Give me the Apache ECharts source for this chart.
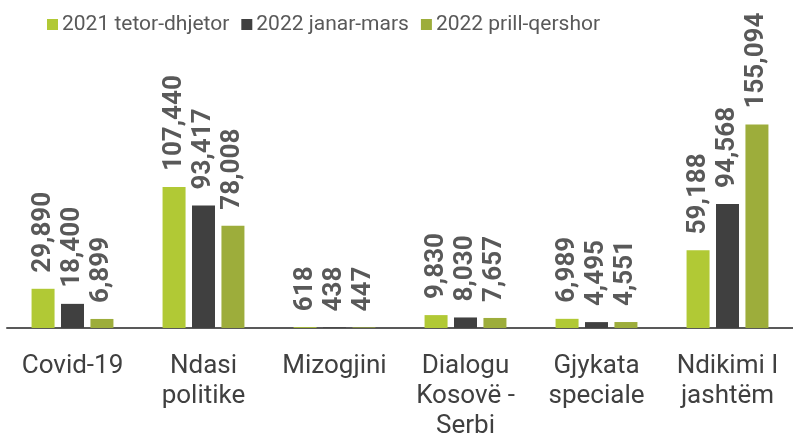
<!DOCTYPE html>
<html>
<head>
<meta charset="utf-8">
<script src="https://cdn.jsdelivr.net/npm/echarts@6/dist/echarts.min.js"></script>
<style>
  html, body { margin: 0; padding: 0; background: #fff; }
  #main { width: 793px; height: 441px; }
</style>
</head>
<body>
<div id="main"></div>
<script>
// kategoritë dhe të dhënat
const categories = ['Covid-19', 'Ndasi\npolitike', 'Mizogjini', 'Dialogu\nKosovë -\nSerbi', 'Gjykata\nspeciale', 'Ndikimi I\njashtëm']
const seriesNames = ['2021 tetor-dhjetor', '2022 janar-mars', '2022 prill-qershor']
const values2021TetDhj = [29890, 107440, 618, 9830, 6989, 59188]
const values2022JanMar = [18400, 93417, 438, 8030, 4495, 94568]
const values2022PriQer = [6899, 78008, 447, 7657, 4551, 155094]
const colors = ['#b1c935', '#404040', '#9dad3b']

const chart = echarts.init(document.getElementById('main'))

const fmt = v => v.toLocaleString('en-US')

function makeSeries(name, data, color) {
  return {
    name: name,
    type: 'bar',
    data: data,
    barWidth: 23,
    barGap: '28%',
    itemStyle: { color: color },
    label: {
      show: true,
      position: 'top',
      rotate: 90,
      align: 'left',
      verticalAlign: 'middle',
      distance: 16,
      color: '#595959',
      fontFamily: 'Roboto',
      fontWeight: 'bold',
      fontSize: 26,
      formatter: p => fmt(p.value)
    }
  }
}

chart.setOption({
  animation: false,
  legend: {
    left: 42,
    top: 9,
    itemWidth: 11,
    itemHeight: 11,
    itemGap: 12,
    icon: 'rect',
    textStyle: { color: '#595959', fontFamily: 'Roboto', fontSize: 21, padding: [0, 0, 0, -1] },
    data: seriesNames
  },
  grid: { left: 7, top: 0, width: 795, height: 332 },
  xAxis: {
    type: 'category',
    data: categories,
    axisLine: { lineStyle: { color: '#595959', width: 2 } },
    axisTick: { show: false },
    axisLabel: {
      color: '#404040',
      fontFamily: 'Roboto',
      fontSize: 26,
      lineHeight: 30,
      margin: 23,
      interval: 0
    }
  },
  yAxis: {
    type: 'value',
    min: 0,
    max: 250000,
    show: false,
    splitLine: { show: false }
  },
  series: [
    makeSeries(seriesNames[0], values2021TetDhj, colors[0]),
    makeSeries(seriesNames[1], values2022JanMar, colors[1]),
    makeSeries(seriesNames[2], values2022PriQer, colors[2])
  ]
})
</script>
</body>
</html>
